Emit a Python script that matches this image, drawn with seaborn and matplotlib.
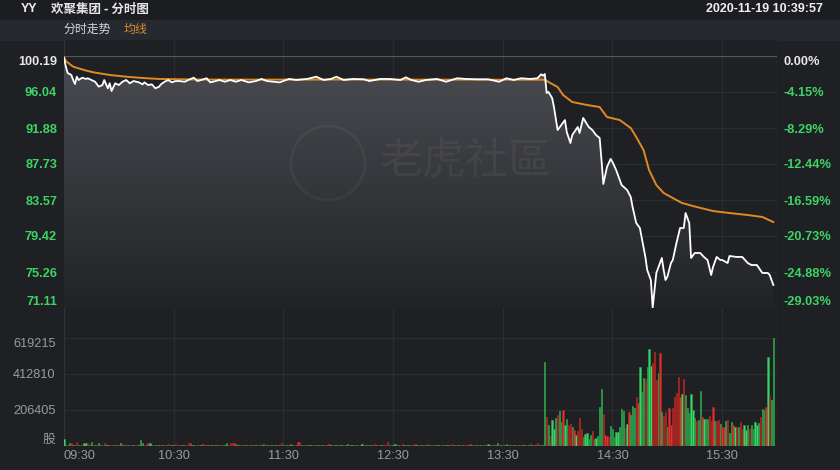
import numpy as np
import pandas as pd
import matplotlib
matplotlib.use('Agg')
import matplotlib.pyplot as plt
import seaborn as sns
from matplotlib.patches import Rectangle, Ellipse
from matplotlib.colors import LinearSegmentedColormap

#Chart values (minutes after 09:30)
prev_close = 100.19
price_min = [0, 1, 2, 4, 5, 6, 7, 8, 10, 12, 13, 15, 17, 19, 21, 22, 24, 25, 26, 28,
             30, 32, 34, 36, 38, 41, 43, 44, 46, 48, 50, 52, 53, 55, 57, 59, 61, 63, 66, 68,
             71, 73, 75, 78, 80, 83, 85, 88, 91, 94, 97, 101, 105, 108, 111, 115, 118, 123, 127, 133,
             138, 142, 146, 149, 153, 158, 164, 167, 173, 178, 184, 187, 190, 194, 198, 204, 209, 215, 220, 226,
             232, 238, 242, 246, 250, 255, 259, 261, 262, 263,
             264, 265, 267, 268, 270, 272, 274, 275, 277, 278, 281, 282, 284, 287, 289, 291, 293, 294, 295, 297,
             299, 300, 302, 305, 308, 310, 311, 313, 315, 317, 318, 319, 321, 322, 324, 325, 327, 328, 329, 330,
             332, 333, 335, 337, 339, 340, 342, 343, 345, 348, 350, 352, 354, 355, 357, 359, 360, 363, 364, 368,
             371, 374, 376, 379, 382, 385, 386, 388]
price_val = [99.95, 98.96, 98.23, 98.00, 97.42, 96.96, 97.80, 97.42, 97.69, 97.54, 97.62, 97.42, 97.22, 96.65, 96.84, 97.42, 96.46, 97.04, 96.15, 97.04,
             96.84, 97.22, 97.42, 97.04, 97.30, 97.15, 96.92, 97.15, 96.84, 96.92, 96.46, 96.65, 96.92, 97.22, 97.42, 97.15, 97.30, 97.30, 97.22, 97.42,
             97.69, 97.30, 97.42, 97.62, 97.15, 97.30, 97.42, 97.22, 97.42, 97.22, 97.42, 97.15, 97.30, 97.54, 97.30, 97.22, 97.15, 97.54, 97.42, 97.54,
             97.80, 97.42, 97.54, 97.80, 97.42, 97.54, 97.50, 97.30, 97.54, 97.54, 97.42, 97.73, 97.42, 97.22, 97.42, 97.54, 97.22, 97.62, 97.54, 97.50,
             97.50, 97.22, 97.62, 97.42, 97.62, 97.54, 97.62, 98.08, 97.92, 98.11,
             95.92, 96.04, 95.34, 94.30, 91.65, 92.23, 92.80, 91.42, 90.15, 91.07, 92.00, 91.30, 93.04, 92.00, 91.65, 91.07, 90.73, 88.19, 85.42, 87.38,
             88.31, 87.96, 87.04, 85.30, 84.73, 83.92, 82.77, 80.92, 80.34, 78.15, 77.00, 75.50, 74.34, 71.15, 75.15, 75.73, 76.88, 75.50, 74.34, 74.69,
             76.30, 76.65, 78.61, 80.34, 80.34, 82.07, 80.92, 76.88, 77.46, 77.46, 77.00, 76.65, 74.92, 75.84, 77.00, 76.65, 76.65, 76.30, 77.11, 77.00,
             77.00, 76.30, 76.07, 76.07, 75.15, 75.15, 74.92, 73.77]
avg_min = [0, 1, 5, 11, 16, 25, 34, 43, 52, 71, 89, 150, 263, 266, 270, 273, 278, 286, 293, 297,
           304, 310, 313, 317, 320, 324, 328, 333, 338, 346, 355, 364, 374, 382, 388]
avg_val = [100.10, 99.61, 98.96, 98.57, 98.31, 98.00, 97.80, 97.65, 97.54, 97.48, 97.46, 97.47, 97.45, 97.07, 96.61, 95.69, 94.88, 94.54, 94.30, 93.15,
           92.80, 91.88, 90.84, 89.34, 87.04, 85.30, 84.38, 83.80, 83.23, 82.77, 82.30, 82.07, 81.84, 81.61, 81.03]

#Per-minute volume in thousand shares, sign = up (+) / down (-) minute
early_vol = [40, 8, -6, 19, -15, 7, -5, -21, 6, -7, 5, 15, 15, -15, 6, 23, -8, 5, -6, 17,
             6, -5, -17, 4, 6, -5, -4, 7, 5, -6, -4, 15, -11, 5, -4, 6, -5, 4, 5, -6,
             -4, 5, 34, 17, -5, 6, -17, 17, 5, -4, 6, -5, 4, -6, 5, -4, 6, -9, -5, 4,
             5, -11, -4, 6, -5, 4, 5, -6, -17, -15, 4, 5, -4, 6, -5, 4, -11, -5, 6, 4,
             -4, 5, -6, 4, 5, -4, 6, -5, 4, 17, -5, -15, -15, -15, -13, 5, 4, -6, 5, -4,
             4, -5, 6, 4, -5, 4, -6, 5, 4, 11, -4, 5, -6, 4, 5, -4, 6, -5, 4, -17,
             5, -4, 6, -5, 11, 4, -5, 6, -23, -21, 5, -4, 6, -5, 4, 5, -6, 4, -5, 6,
             -4, 5, 4, -6, 5, -11, 4, -5, 6, 4, -5, 4, 6, -5, 4, 11, -6, 5, 4, -5,
             6, -4, 5, 11, -5, 4, 6, -4, 5, -6, -11, 4, -5, 6, 4, -5, -4, -23, 5, -6,
             4, 11, -5, 6, -4, -11, 5, -6, 4, 5, -4, 6, -11, 4, -5, 6, 4, -5, 4, -9,
             5, -4, 6, -5, 4, 5, -6, 4, -5, 6, 4, -5, -11, 4, 6, -5, 4, -4, 5, -6,
             4, -5, -11, 6, -4, 5, 4, -6, 5, -4, 6, -5, 11, 4, -5, 6, 4, 17, -5, 6,
             -4, 5, 11, -6, 4, -5, 6, 4, -5, 6, -4, 5, 4, -6, 5, -11, 4, -5, 6, -15,
             5, -6, 8]
late_vol = [480, -164, 120, -57, 149, 97, 159, -178, 200, 139,
            -206, 120, 153, -120, -124, 107, -92, 63, -88, -159,
            -97, 50, 69, 76, 38, 63, -86, 40, 48, 57,
            222, 327, -183, -63, -59, -54, 115, 97, 50, 82,
            82, 111, 212, 199, -103, 126, -197, 178, 229, 220,
            -279, -245, 455, 311, 388, -382, 451, 554, 459, -478,
            -541, -378, 420, -531, 197, -172, -197, 107, -216, -120,
            -216, -279, -306, -394, -283, 296, -382, 292, 216, 187,
            298, 206, 159, -145, 149, 315, -164, 153, 153, 153,
            -172, -145, -222, 145, -145, -149, 126, -107, -107, 145,
            -149, 76, 136, -118, 111, -111, 107, -139, -97, 120,
            92, 120, -95, 120, 97, 136, 120, 134, -164, 210,
            206, -222, 508, -279, 264, 617]

price_ticks = [100.19, 96.04, 91.88, 87.73, 83.57, 79.42, 75.26, 71.11]
pct_labels = ['0.00%', '-4.15%', '-8.29%', '-12.44%', '-16.59%', '-20.73%', '-24.88%', '-29.03%']
vol_ticks = [0, 206405, 412810, 619215]
vol_labels = ['股', '206405', '412810', '619215']
time_ticks = [0, 60, 120, 180, 240, 300, 360]
time_labels = ['09:30', '10:30', '11:30', '12:30', '13:30', '14:30', '15:30']

BG = '#1f2024'
GRID = '#2b2d33'
GREEN = '#3dd466'
RED = '#e5312d'
ORANGE = '#e08a22'

plt.rcParams['font.family'] = ['Liberation Sans', 'Noto Sans CJK SC', 'DejaVu Sans']
W, H = 840, 470

def box(left, top, right, bottom):
	return [left / W, 1 - bottom / H, (right - left) / W, (bottom - top) / H]

fig = plt.figure(figsize=(8.4, 4.7), dpi=100)
fig.patch.set_facecolor(BG)

#Header bars
fig.add_artist(Rectangle((0, 1 - 20 / H), 1, 20 / H, transform=fig.transFigure, color='#1c1d21', zorder=0))
fig.add_artist(Rectangle((0, 1 - 40 / H), 1, 20 / H, transform=fig.transFigure, color='#262930', zorder=0))
fig.text(21 / W, 1 - 9 / H, 'YY', color='#eeeeee', fontsize=9, weight='bold', va='center')
fig.text(51 / W, 1 - 9 / H, '欢聚集团 - 分时图', color='#e6e6e6', fontsize=9, weight='bold', va='center',
		 family=['Noto Sans CJK SC', 'Liberation Sans'])
fig.text(823 / W, 1 - 9 / H, '2020-11-19 10:39:57', color='#eeeeee', fontsize=9, weight='bold', va='center', ha='right')
fig.text(64 / W, 1 - 29.5 / H, '分时走势', color='#d6d6d6', fontsize=8.6, va='center', family=['Noto Sans CJK SC'])
fig.text(124 / W, 1 - 29.5 / H, '均线', color='#d88b2c', fontsize=8.6, va='center', family=['Noto Sans CJK SC'])

#Background axes carrying the vertical grid and frame
ax_bg = fig.add_axes(box(64, 40, 777, 446))
ax_bg.set_facecolor(BG)
ax_bg.set_xlim(0, 390)
for t in time_ticks[1:]:
	ax_bg.axvline(t, color=GRID, lw=0.9)
ax_bg.axvline(0, color='#30323a', lw=1)
ax_bg.axvline(390, color='#30323a', lw=1)
ax_bg.set_xticks([])
ax_bg.set_yticks([])
for s in ax_bg.spines.values():
	s.set_visible(False)

#Price panel
ax = fig.add_axes(box(64, 56, 777, 308))
ax.patch.set_alpha(0)
df_price = pd.DataFrame({'minute': price_min, 'price': price_val})
df_avg = pd.DataFrame({'minute': avg_min, 'avg': avg_val})

ymin, ymax = price_ticks[-1], price_ticks[0]
poly = ax.fill_between(df_price['minute'], df_price['price'], ymin, color='none', lw=0)
grad = np.linspace(1, 0, 256).reshape(-1, 1)
cmap = LinearSegmentedColormap.from_list('shade', ['#222327', '#4b4c51'])
im = ax.imshow(grad, extent=[0, 390, ymin, ymax], aspect='auto', cmap=cmap, zorder=1)
im.set_clip_path(poly.get_paths()[0], transform=ax.transData)

for i, p in enumerate(price_ticks):
	ax.axhline(p, color='#55575e' if i == 0 else GRID, lw=0.9, zorder=0.5)

#Watermark
fig.add_artist(Ellipse((328 / W, 1 - 163 / H), 74 / W, 74 / H, transform=fig.transFigure,
					   fill=False, ec='white', alpha=0.045, lw=2))
fig.text(380 / W, 1 - 163 / H, '老虎社區', color='white', alpha=0.05, fontsize=31, va='center',
		 family=['Noto Sans CJK TC'])

sns.lineplot(data=df_avg, x='minute', y='avg', ax=ax, color=ORANGE, lw=1.4, zorder=3)
sns.lineplot(data=df_price, x='minute', y='price', ax=ax, color='white', lw=1.3, zorder=4)
ax.set_xlim(0, 390)
ax.set_ylim(ymin, ymax)
ax.set_xlabel('')
ax.set_ylabel('')
ax.set_xticks([])
ax.set_yticks(price_ticks)
ax.set_yticklabels([f'{p:.2f}' for p in price_ticks])
ax.tick_params(axis='y', length=0, pad=5, labelsize=9.2)
for s in ax.spines.values():
	s.set_visible(False)

ax2 = ax.twinx()
ax2.set_ylim(ymin, ymax)
ax2.set_yticks(price_ticks)
ax2.set_yticklabels(pct_labels)
ax2.tick_params(axis='y', length=0, pad=5, labelsize=9.2)
for s in ax2.spines.values():
	s.set_visible(False)

for labels in (ax.get_yticklabels(), ax2.get_yticklabels()):
	for i, lbl in enumerate(labels):
		lbl.set_color('#e8e8e8' if i == 0 else GREEN)
		lbl.set_fontweight('bold')
		if i == 0:
			lbl.set_va('top')
		elif i == len(labels) - 1:
			lbl.set_va('bottom')

#Volume panel
axv = fig.add_axes(box(64, 338, 777, 446))
axv.patch.set_alpha(0)
volumes = np.array(early_vol + late_vol) * 1000
minutes = np.arange(len(volumes))
face = [GREEN if v > 0 else RED for v in volumes]
edge = ['#2a9a48' if v > 0 else '#a82522' for v in volumes]
for v in vol_ticks[1:]:
	axv.axhline(v, color=GRID, lw=0.9, zorder=0)
axv.axhline(0, color='#30323a', lw=1, zorder=0)
axv.bar(minutes, np.abs(volumes), width=0.72, color=face, edgecolor=edge, lw=0.5, zorder=2)
axv.set_xlim(0, 390)
axv.set_ylim(0, vol_ticks[-1])
axv.set_yticks(vol_ticks)
axv.set_yticklabels(vol_labels)
axv.set_xticks(time_ticks)
axv.set_xticklabels(time_labels)
axv.tick_params(axis='both', length=0, labelsize=9.2, labelcolor='#9a9ba0')
axv.tick_params(axis='y', pad=6)
axv.tick_params(axis='x', pad=3)
for s in axv.spines.values():
	s.set_visible(False)
ylabels = axv.get_yticklabels()
ylabels[0].set_va('bottom')
ylabels[0].set_family(['Noto Sans CJK SC'])
ylabels[-1].set_va('top')
axv.get_xticklabels()[0].set_ha('left')

fig.savefig('out.png', dpi=100, facecolor=BG)
